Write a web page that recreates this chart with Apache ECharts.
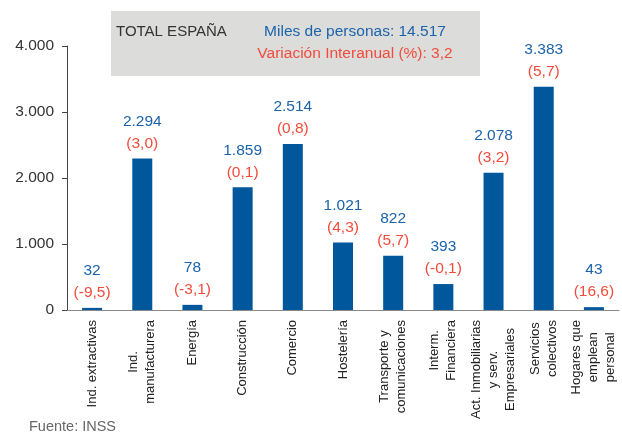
<!DOCTYPE html>
<html><head><meta charset="utf-8">
<script src="https://cdn.jsdelivr.net/npm/echarts@6/dist/echarts.min.js"></script>
<style>html,body{margin:0;padding:0;background:#fff}#c{width:622px;height:435px}</style>
</head><body><div id="c"></div>
<script>
const categories = ["Ind. extractivas", "Ind.\nmanufacturera", "Energía", "Construcción", "Comercio", "Hostelería", "Transporte y\ncomunicaciones", "Interm.\nFinanciera", "Act. Inmobiliarias\ny serv.\nEmpresariales", "Servicios\ncolectivos", "Hogares que\nemplean\npersonal"];
const personas = [32, 2294, 78, 1859, 2514, 1021, 822, 393, 2078, 3383, 43];
const variacion = [-9.5, 3.0, -3.1, 0.1, 0.8, 4.3, 5.7, -0.1, 3.2, 5.7, 16.6];
const yTicks = [0, 1000, 2000, 3000, 4000];
const totalLabel = "TOTAL ESPAÑA";
const totalPersonas = "Miles de personas: 14.517";
const totalVariacion = "Variación Interanual (%): 3,2";
const source = "Fuente: INSS";

const FONT = "'Liberation Sans', Arial, Helvetica, sans-serif";
const BLUE_TXT = "#1b63ab", RED_TXT = "#f24b3b", BAR = "#00579c";
function thousands(v) { return String(v).replace(/\B(?=(\d{3})+(?!\d))/g, "."); }
function dec(v) { return v.toFixed(1).replace(".", ","); }

const chart = echarts.init(document.getElementById("c"), null, {renderer: "canvas"});
chart.setOption({
  animation: false,
  backgroundColor: "#fff",
  textStyle: {fontFamily: FONT},
  grid: {left: 67, right: 3, top: 46, bottom: 125, containLabel: false, outerBoundsMode: "none"},
  xAxis: {
    type: "category",
    data: categories,
    axisLine: {show: true, lineStyle: {color: "#8a8a8a", width: 1}},
    axisTick: {show: false},
    axisLabel: {
      interval: 0, rotate: 90, margin: 10, color: "#222", fontSize: 13, fontFamily: FONT,
      formatter: function (v) { return v.split("\n").map(s => "{c|" + s + "}").join("\n"); },
      rich: {c: {align: "center", fontSize: 13, lineHeight: 17, color: "#222", fontFamily: FONT}}
    }
  },
  yAxis: {
    type: "value", min: yTicks[0], max: yTicks[yTicks.length - 1], interval: 1000,
    axisLine: {show: true, lineStyle: {color: "#444", width: 1}},
    axisTick: {show: true, length: 5, lineStyle: {color: "#444"}},
    splitLine: {show: false},
    axisLabel: {margin: 13, color: "#333", fontSize: 15.5, fontFamily: FONT, formatter: v => thousands(v)}
  },
  series: [{
    type: "bar",
    data: personas,
    barWidth: 20,
    itemStyle: {color: BAR},
    label: {
      show: true, position: "top", distance: 4,
      formatter: p => "{b|" + thousands(p.value) + "}\n{r|(" + dec(variacion[p.dataIndex]) + ")}",
      rich: {
        b: {color: BLUE_TXT, fontSize: 15.5, lineHeight: 22, fontFamily: FONT},
        r: {color: RED_TXT, fontSize: 15.5, lineHeight: 22, fontFamily: FONT}
      }
    }
  }],
  graphic: [
    {type: "rect", left: 111, top: 11, shape: {width: 369, height: 65}, style: {fill: "#dcdcdb"}, z: 0},
    {type: "text", left: 116, top: 24, style: {text: totalLabel, fill: "#333", font: "15px " + FONT}, z: 1},
    {type: "text", x: 355, y: 32, style: {text: totalPersonas, fill: BLUE_TXT, font: "15.5px " + FONT, align: "center", verticalAlign: "middle"}, z: 1},
    {type: "text", x: 355, y: 54, style: {text: totalVariacion, fill: RED_TXT, font: "15.5px " + FONT, align: "center", verticalAlign: "middle"}, z: 1},
    {type: "text", left: 29, top: 419, style: {text: source, fill: "#666", font: "14.5px " + FONT}, z: 1}
  ]
});
</script></body></html>
